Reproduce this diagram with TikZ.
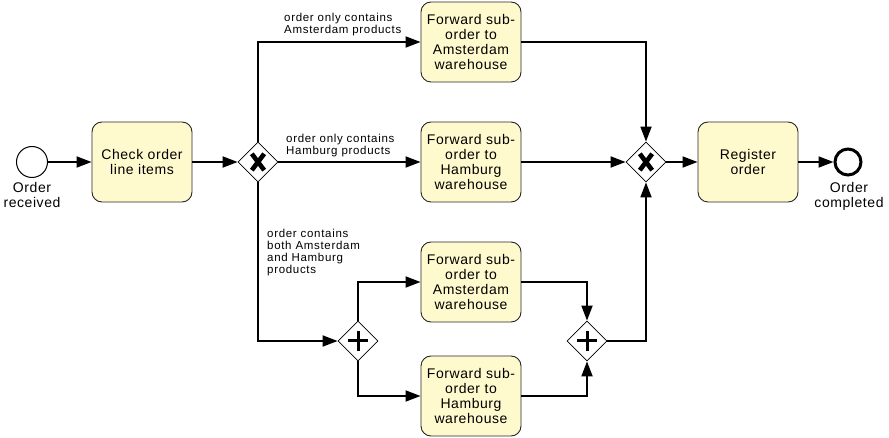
\documentclass[tikz,border=0pt]{standalone}
\usepackage{fontspec}
\usetikzlibrary{shapes.geometric, arrows.meta}
\newfontfamily\taskfamily[LetterSpace=4]{Liberation Sans}
\newfontfamily\labelfamily[LetterSpace=6]{Liberation Sans}
\newcommand{\taskfont}{\taskfamily\fontsize{14}{14.7}\selectfont}
\newcommand{\flowfont}{\labelfamily\fontsize{11.5}{12}\selectfont}
\definecolor{taskyellow}{RGB}{255,250,205}

\begin{document}
\begin{tikzpicture}[x=1pt, y=-1pt, >={Triangle[length=15pt, width=11pt]}, every node/.style={font=\taskfont}]
\tikzstyle{task} = [rectangle, rounded corners=10pt, draw=black!85, fill=taskyellow, line width=0.9pt, minimum width=100pt, minimum height=80pt, align=center, inner sep=0pt]
\tikzstyle{xorgate} = [diamond, draw=black, fill=white, line width=0.8pt, minimum size=40pt, inner sep=0pt,
  path picture={\draw[line width=4.6pt] ([shift={(-6.2pt,-8.2pt)}]path picture bounding box.center) -- ([shift={(6.2pt,8.2pt)}]path picture bounding box.center);
                \draw[line width=4.6pt] ([shift={(-6.2pt,8.2pt)}]path picture bounding box.center) -- ([shift={(6.2pt,-8.2pt)}]path picture bounding box.center);}]
\tikzstyle{andgate} = [diamond, draw=black, fill=white, line width=0.8pt, minimum size=40pt, inner sep=0pt,
  path picture={\draw[line width=3pt] ([xshift=-10pt]path picture bounding box.center) -- ([xshift=10pt]path picture bounding box.center);
                \draw[line width=3pt] ([yshift=-10pt]path picture bounding box.center) -- ([yshift=10pt]path picture bounding box.center);}]
\tikzstyle{startevent} = [circle, draw=black, fill=white, line width=1pt, minimum size=31pt, inner sep=0pt]
\tikzstyle{endevent} = [circle, draw=black, fill=white, line width=3pt, minimum size=26pt, inner sep=0pt]
\tikzstyle{eventlabel} = [anchor=north, align=center, inner sep=0pt]
\tikzstyle{flowlabel} = [anchor=north west, align=left, inner sep=0pt, font=\flowfont]
\tikzstyle{flow} = [->, line width=1.8pt]

\useasboundingbox (0,0) rectangle (889,438);

% events
\node[startevent] (start) at (32,162) {};
\node[eventlabel] (startlbl) at (32,182) {Order\\received};
\node[endevent] (end) at (848,162) {};
\node[eventlabel] (endlbl) at (849,182) {Order\\completed};

% tasks
\node[task] (check) at (142,162) {Check order\\line items};
\node[task] (amsA) at (471,42) {Forward sub-\\order to\\Amsterdam\\warehouse};
\node[task] (hamA) at (471,162) {Forward sub-\\order to\\Hamburg\\warehouse};
\node[task] (amsB) at (471,282) {Forward sub-\\order to\\Amsterdam\\warehouse};
\node[task] (hamB) at (471,396) {Forward sub-\\order to\\Hamburg\\warehouse};
\node[task] (register) at (748,162) {Register\\order};

% gateways
\node[xorgate] (xsplit) at (258,162) {};
\node[xorgate] (xjoin) at (646,162) {};
\node[andgate] (psplit) at (358,341) {};
\node[andgate] (pjoin) at (587,341) {};

% conditions
\node[flowlabel] (lblAms) at (284,13) {order only contains\\Amsterdam products};
\node[flowlabel] (lblHam) at (286,134) {order only contains\\Hamburg products};
\node[flowlabel] (lblBoth) at (267,229) {order contains\\both Amsterdam\\and Hamburg\\products};

% sequence flows
\draw[flow] (start) -- (check);
\draw[flow] (check) -- (xsplit);
\draw[flow] (xsplit.north) |- (amsA.west);
\draw[flow] (xsplit) -- (hamA);
\draw[flow] (xsplit.south) |- (psplit.west);
\draw[flow] (psplit.north) |- (amsB.west);
\draw[flow] (psplit.south) |- (hamB.west);
\draw[flow] (amsB.east) -| (pjoin.north);
\draw[flow] (hamB.east) -| (pjoin.south);
\draw[flow] (pjoin.east) -| (xjoin.south);
\draw[flow] (amsA.east) -| (xjoin.north);
\draw[flow] (hamA) -- (xjoin);
\draw[flow] (xjoin) -- (register);
\draw[flow] (register) -- (end);

\end{tikzpicture}
\end{document}
